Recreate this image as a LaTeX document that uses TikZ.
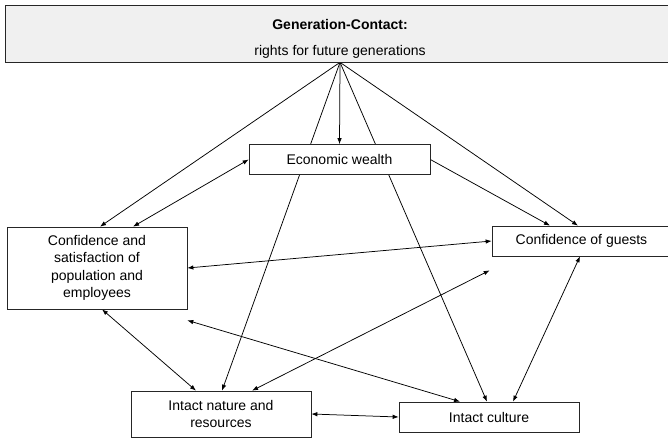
\documentclass[tikz,border=0pt]{standalone}
\usepackage{fontspec}
\setmainfont{Liberation Sans}
\usetikzlibrary{arrows.meta,backgrounds}
\begin{document}
\begin{tikzpicture}[x=1pt,y=-1pt,
  every node/.style={font=\fontsize{14}{17.5}\selectfont},
  box/.style={draw=black!85, line width=0.7pt, fill=white, inner sep=0pt, align=center},
  link/.style={draw=black, line width=0.75pt, -{Latex[length=6pt,width=4.5pt]}},
  dlink/.style={link, {Latex[length=6pt,width=4.5pt]}-{Latex[length=6pt,width=4.5pt]}}]
\useasboundingbox (0,0) rectangle (668,439);
\clip (0,0) rectangle (668,439);

% title bar
\node[box, fill=black!6, minimum width=670pt, minimum height=57pt] (gen) at (340,33.5) {};
\node[align=center, inner sep=0pt] (gentext) at (340,38.5)
  {\textbf{Generation-Contact:}\\[8.5pt]rights for future generations};

% the five goal boxes
\node[box, minimum width=181pt, minimum height=30pt] (econ) at (339.5,159.5) {Economic wealth};
\node[box, minimum width=180pt, minimum height=82pt] (pop) at (97,268)
  {Confidence and\\satisfaction of\\population and\\employees};
\node[box, minimum width=179pt, minimum height=30pt] (guest) at (581.5,241) {Confidence of guests};
\node[box, minimum width=180pt, minimum height=46pt] (nat) at (221,414) {Intact nature and\\resources};
\node[box, minimum width=180pt, minimum height=30pt] (cult) at (489,417) {Intact culture};

\coordinate (guestfree) at ([shift={(-2pt,-14pt)}]guest.south west);

\begin{scope}[on background layer]
  % influence of the generation contract
  \draw[link] (gen.south) -- ([xshift=3pt]pop.north);
  \draw[link] (gen.south) -- (econ.north);
  \draw[link] (gen.south) -- ([xshift=-3.5pt]guest.north);
  \draw[link] (gen.south) -- ([xshift=1pt]nat.north);
  \draw[link] (gen.south) -- ([xshift=-2pt]cult.north);
  % mutual relations
  \draw[dlink] (econ.west) -- ([xshift=36pt]pop.north);
  \draw[link] (econ.east) -- ([xshift=-31.5pt]guest.north);
  \draw[dlink] (guest.west) -- (pop.east);
  \draw[dlink] (guestfree) -- ([xshift=31pt]nat.north);
  \draw[dlink] ([xshift=-1.5pt]guest.south) -- ([xshift=24pt]cult.north);
  \draw[dlink] ([xshift=5pt]pop.south) -- ([xshift=-25pt]nat.north);
  \draw[dlink] ([yshift=-11pt]pop.south east) -- ([xshift=-29pt]cult.north);
  \draw[dlink] (nat.east) -- (cult.west);
\end{scope}
\end{tikzpicture}
\end{document}
